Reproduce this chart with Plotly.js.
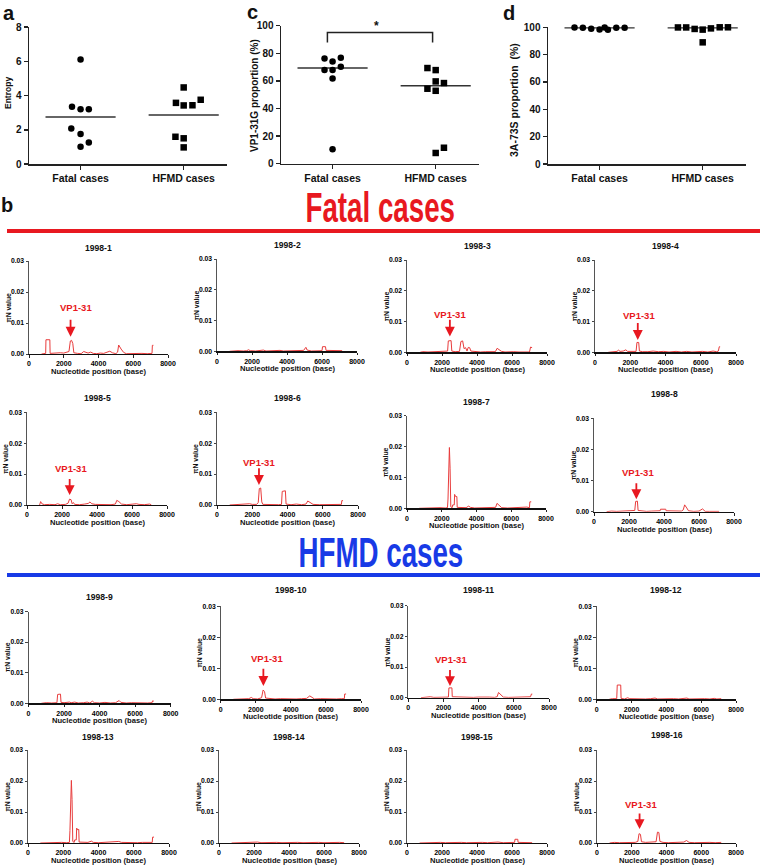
<!DOCTYPE html>
<html><head><meta charset="utf-8">
<script src="https://cdn.plot.ly/plotly-3.0.1.min.js"></script>
<style>body{margin:0;background:#fff}#chart{width:760px;height:865px}</style>
</head><body><div id="chart"></div>
<script>
// ---------------- DATA ----------------
const groups = ['Fatal cases', 'HFMD cases'];

// panel a: entropy
const entropyFatal = [6.1, 3.34, 3.2, 3.2, 2.08, 1.75, 1.0, 1.26];
const entropyFatalJit = [0, -0.083, 0, 0.08, -0.09, 0, 0, 0.08];
const entropyHFMD = [4.47, 3.57, 3.42, 3.43, 3.75, 1.59, 1.5, 0.97];
const entropyHFMDJit = [0, -0.075, 0, 0.085, 0.165, -0.08, 0, 0];
const entropyMedians = [2.74, 2.86];

// panel c: VP1-31G proportion (%)
const vp1Fatal = [76.3, 74.1, 76.7, 67.8, 67.8, 70.2, 61.8, 10.4];
const vp1FatalJit = [-0.078, 0, 0.08, -0.078, 0, 0.08, 0, 0];
const vp1HFMD = [69.3, 67.8, 59.6, 58.4, 54.3, 52.8, 11.5, 7.7];
const vp1HFMDJit = [-0.08, 0, 0, 0.08, -0.08, 0, 0.08, 0];
const vp1Medians = [69.3, 56.4];
const vp1Significance = {from: 0.95, to: 1.97, top: 95.1, leg: 87.9, label: '*'};

// panel d: 3A-73S proportion (%)
const a3Fatal = [99.8, 99.6, 99.0, 98.3, 99.8, 98.2, 99.6, 99.6];
const a3FatalJit = [-0.243, -0.162, -0.081, 0, 0.049, 0.081, 0.162, 0.243];
const a3HFMD = [99.9, 99.9, 98.8, 98.3, 99.2, 100, 100, 89.0];
const a3HFMDJit = [-0.24, -0.16, -0.078, 0, 0.08, 0.165, 0.245, 0];
const a3Medians = [99.6, 99.7];

// panel b: piN value along the genome, [position, piN]
const pi1998_1 = [[720,0],[960,0.0002],[975,0.0046],[1200,0.0046],[1215,0.0002],[1400,0.0003],[1600,0.0002],[1800,0.0004],[2000,0.0003],[2200,0.0005],[2300,0.0008],[2380,0.0042],[2450,0.0044],[2520,0.0034],[2580,0.0004],[2800,0.0002],[3000,0.0001],[3150,0.0008],[3250,0.0005],[3400,0.0003],[3550,0.0006],[3700,0.0002],[3900,0.0001],[4100,0.0003],[4300,0.0002],[4500,0.0006],[4650,0.0009],[4800,0.0004],[5000,0.0001],[5100,0.0006],[5160,0.0029],[5300,0.0016],[5450,0.0005],[5600,0.0001],[5900,0.0002],[6200,0.0001],[6500,0.0002],[6800,0.0001],[7080,0.0002],[7100,0.0028],[7160,0.0028]];
const pi1998_2 = [[720,0],[900,0.0001],[1200,0.0002],[1500,0.0001],[1700,0.0002],[1800,0.0005],[1900,0.0002],[2200,0.0001],[2500,0.0002],[2650,0.0004],[2800,0.0001],[3100,0.0002],[3400,0.0001],[3600,0.0003],[3800,0.0001],[4100,0.0002],[4400,0.0001],[4700,0.0002],[4950,0.0003],[5080,0.0013],[5150,0.0004],[5400,0.0001],[5700,0.0002],[6000,0.0002],[6030,0.0015],[6200,0.0015],[6230,0.0003],[6500,0.0002],[6800,0.0001],[7150,0.0002]];
const pi1998_3 = [[750,0],[900,0.0002],[1200,0.0001],[1500,0.0002],[1800,0.0001],[2100,0.0002],[2320,0.0004],[2360,0.0037],[2520,0.0038],[2560,0.0004],[2750,0.0002],[3000,0.0003],[3080,0.0035],[3180,0.0037],[3260,0.0012],[3350,0.0015],[3430,0.0004],[3500,0.0016],[3580,0.0015],[3650,0.0004],[3900,0.0002],[4200,0.0001],[4500,0.0002],[4800,0.0003],[5050,0.0002],[5150,0.0013],[5250,0.0010],[5400,0.0003],[5600,0.0001],[5900,0.0003],[6100,0.0002],[6400,0.0001],[6700,0.0002],[7000,0.0001],[7060,0.0017],[7150,0.0015]];
const pi1998_4 = [[750,0],[1000,0.0002],[1250,0.0003],[1330,0.0007],[1420,0.0003],[1600,0.0004],[1750,0.0008],[1850,0.0003],[2100,0.0002],[2330,0.0003],[2380,0.0032],[2480,0.0032],[2520,0.0004],[2700,0.0002],[3000,0.0002],[3300,0.0004],[3600,0.0002],[3900,0.0003],[4200,0.0001],[4600,0.0003],[4900,0.0001],[5200,0.0003],[5500,0.0001],[5800,0.0002],[6100,0.0003],[6400,0.0001],[6700,0.0004],[6900,0.0002],[7000,0.0004],[7050,0.0018],[7100,0.0018]];
const pi1998_5 = [[720,0],[780,0.0011],[850,0.0004],[1000,0.0001],[1300,0.0002],[1600,0.0001],[1750,0.0004],[1900,0.0001],[2200,0.0002],[2350,0.0006],[2430,0.0019],[2520,0.0017],[2580,0.0004],[2650,0.0008],[2720,0.0002],[3000,0.0001],[3300,0.0003],[3500,0.0005],[3600,0.0010],[3700,0.0004],[3900,0.0002],[4200,0.0001],[4500,0.0002],[4800,0.0001],[5050,0.0003],[5130,0.0015],[5250,0.0011],[5400,0.0003],[5700,0.0001],[6000,0.0002],[6250,0.0004],[6400,0.0002],[6700,0.0001],[7000,0.0003],[7100,0.0001]];
const pi1998_6 = [[720,0],[1000,0.0001],[1300,0.0002],[1600,0.0001],[1850,0.0004],[2000,0.0002],[2250,0.0002],[2340,0.0008],[2400,0.0053],[2480,0.0055],[2540,0.0010],[2600,0.0002],[2900,0.0001],[3200,0.0002],[3500,0.0001],[3660,0.0002],[3700,0.0044],[3880,0.0046],[3920,0.0003],[4200,0.0001],[4500,0.0003],[4800,0.0001],[5050,0.0003],[5150,0.0013],[5300,0.0008],[5450,0.0002],[5800,0.0001],[6200,0.0002],[6600,0.0001],[6900,0.0002],[7060,0.0002],[7080,0.0014],[7150,0.0014]];
const pi1998_7 = [[700,0],[1000,0.0001],[1300,0.0002],[1600,0.0001],[1900,0.0002],[2200,0.0001],[2330,0.0002],[2360,0.0030],[2440,0.0197],[2480,0.0130],[2520,0.0005],[2600,0.0002],[2630,0.0011],[2720,0.0011],[2740,0.0045],[2800,0.0038],[2870,0.0038],[2890,0.0003],[3100,0.0002],[3400,0.0002],[3550,0.0007],[3650,0.0003],[3900,0.0001],[4200,0.0002],[4500,0.0001],[4800,0.0002],[5100,0.0003],[5180,0.0016],[5300,0.0010],[5450,0.0002],[5800,0.0001],[6100,0.0002],[6400,0.0001],[6700,0.0003],[6900,0.0004],[7050,0.0002],[7070,0.0021],[7150,0.0021]];
const pi1998_8 = [[720,0],[1000,0.0002],[1300,0.0001],[1600,0.0002],[1900,0.0001],[2200,0.0002],[2330,0.0004],[2380,0.0033],[2480,0.0034],[2520,0.0004],[2700,0.0002],[3000,0.0001],[3300,0.0002],[3600,0.0002],[3780,0.0003],[3800,0.0008],[4100,0.0008],[4120,0.0003],[4400,0.0002],[4700,0.0003],[5000,0.0002],[5100,0.0006],[5180,0.0022],[5300,0.0012],[5400,0.0003],[5700,0.0001],[6000,0.0002],[6200,0.0009],[6300,0.0005],[6350,0.0001],[6600,0.0001],[6900,0.0002],[7150,0.0001]];
const pi1998_9 = [[720,0],[1000,0.0002],[1300,0.0001],[1600,0.0002],[1640,0.0029],[1800,0.0030],[1830,0.0003],[2000,0.0002],[2300,0.0004],[2400,0.0002],[2600,0.0004],[2800,0.0001],[3100,0.0002],[3300,0.0004],[3450,0.0001],[3600,0.0007],[3700,0.0002],[4000,0.0001],[4300,0.0003],[4600,0.0001],[4900,0.0002],[5100,0.0009],[5200,0.0003],[5500,0.0001],[5800,0.0002],[6100,0.0001],[6400,0.0002],[6700,0.0001],[6950,0.0002],[6980,0.0008],[7050,0.0007]];
const pi1998_10 = [[720,0],[1000,0.0001],[1300,0.0002],[1600,0.0002],[1750,0.0006],[1850,0.0002],[2100,0.0001],[2330,0.0005],[2420,0.0030],[2500,0.0025],[2560,0.0004],[2800,0.0002],[3100,0.0001],[3400,0.0002],[3700,0.0001],[4000,0.0002],[4300,0.0001],[4600,0.0002],[4900,0.0003],[5080,0.0011],[5200,0.0006],[5350,0.0001],[5700,0.0002],[6000,0.0001],[6300,0.0002],[6600,0.0001],[6900,0.0002],[7050,0.0002],[7070,0.0017],[7150,0.0017]];
const pi1998_11 = [[720,0],[1000,0.0002],[1250,0.0003],[1450,0.0001],[1700,0.0002],[2000,0.0001],[2280,0.0002],[2310,0.0032],[2480,0.0032],[2500,0.0003],[2800,0.0002],[3100,0.0001],[3400,0.0002],[3700,0.0001],[4000,0.0002],[4300,0.0003],[4600,0.0002],[4900,0.0001],[5050,0.0003],[5130,0.0017],[5250,0.0010],[5400,0.0002],[5700,0.0001],[6000,0.0002],[6300,0.0001],[6600,0.0002],[6950,0.0003],[7000,0.0012],[7050,0.0012]];
const pi1998_12 = [[720,0],[900,0.0002],[1150,0.0002],[1180,0.0046],[1380,0.0046],[1400,0.0003],[1600,0.0001],[1780,0.0005],[1900,0.0002],[2200,0.0001],[2500,0.0002],[2800,0.0001],[3100,0.0002],[3350,0.0004],[3500,0.0001],[3800,0.0002],[4100,0.0001],[4400,0.0002],[4700,0.0001],[5000,0.0002],[5180,0.0004],[5300,0.0001],[5600,0.0002],[5900,0.0001],[6200,0.0002],[6500,0.0001],[6750,0.0003],[6900,0.0001],[7150,0.0002]];
const pi1998_13 = [[700,0],[1000,0.0001],[1300,0.0002],[1600,0.0001],[1900,0.0002],[2200,0.0001],[2350,0.0002],[2380,0.0040],[2460,0.0202],[2500,0.0140],[2540,0.0005],[2620,0.0002],[2650,0.0010],[2740,0.0010],[2760,0.0048],[2830,0.0042],[2880,0.0044],[2900,0.0003],[3100,0.0002],[3400,0.0002],[3600,0.0006],[3700,0.0002],[4000,0.0001],[4300,0.0002],[4600,0.0001],[4900,0.0002],[5150,0.0005],[5300,0.0002],[5600,0.0001],[5900,0.0002],[6200,0.0001],[6500,0.0002],[6800,0.0001],[7050,0.0002],[7070,0.0019],[7150,0.0019]];
const pi1998_14 = [[720,0],[1000,0.0001],[1300,0.0002],[1600,0.0001],[1900,0.0002],[2200,0.0003],[2400,0.0001],[2700,0.0002],[3000,0.0001],[3300,0.0002],[3600,0.0001],[3900,0.0002],[4200,0.0001],[4500,0.0002],[4800,0.0001],[5100,0.0002],[5400,0.0001],[5700,0.0002],[6000,0.0001],[6300,0.0002],[6600,0.0001],[6900,0.0002],[7150,0.0001]];
const pi1998_15 = [[720,0],[1000,0.0001],[1300,0.0002],[1600,0.0001],[1900,0.0002],[2200,0.0001],[2500,0.0002],[2800,0.0001],[3100,0.0002],[3400,0.0001],[3700,0.0002],[4000,0.0001],[4300,0.0002],[4600,0.0001],[4900,0.0002],[5200,0.0003],[5500,0.0001],[5800,0.0002],[6150,0.0002],[6170,0.0012],[6330,0.0012],[6350,0.0002],[6600,0.0001],[6900,0.0002],[7150,0.0001]];
const pi1998_16 = [[720,0],[1000,0.0002],[1300,0.0001],[1600,0.0002],[1900,0.0003],[2200,0.0002],[2350,0.0005],[2420,0.0030],[2500,0.0028],[2560,0.0004],[2800,0.0002],[3100,0.0003],[3400,0.0004],[3480,0.0035],[3560,0.0034],[3620,0.0005],[3800,0.0002],[4100,0.0001],[4400,0.0002],[4700,0.0001],[5000,0.0003],[5150,0.0008],[5300,0.0002],[5600,0.0001],[5900,0.0002],[6200,0.0001],[6500,0.0002],[6800,0.0001],[7150,0.0002]];

const sampleNames = ['1998-1','1998-2','1998-3','1998-4','1998-5','1998-6','1998-7','1998-8',
                     '1998-9','1998-10','1998-11','1998-12','1998-13','1998-14','1998-15','1998-16'];
const piSeries = [pi1998_1,pi1998_2,pi1998_3,pi1998_4,pi1998_5,pi1998_6,pi1998_7,pi1998_8,
                  pi1998_9,pi1998_10,pi1998_11,pi1998_12,pi1998_13,pi1998_14,pi1998_15,pi1998_16];
const genomeTicks = [0, 2000, 4000, 6000, 8000];
const piTicks = [0, 0.01, 0.02, 0.03];
const piTickText = ['0.00', '0.01', '0.02', '0.03'];
// VP1-31 site labels: [sample index, site position, label centre position, label piN, arrow start piN, arrow tip piN]
const vp1Site = [
  [0, 2392, 2690, 0.0151, 0.0115, 0.0056],
  [2, 2450, 2478, 0.0122, 0.0111, 0.0051],
  [3, 2427, 2512, 0.0121, 0.0100, 0.0040],
  [4, 2438, 2486, 0.0118, 0.0089, 0.0032],
  [5, 2381, 2381, 0.0138, 0.0124, 0.0065],
  [7, 2420, 2486, 0.0125, 0.0096, 0.0040],
  [9, 2433, 2662, 0.0132, 0.0103, 0.0043],
  [10, 2370, 2436, 0.0124, 0.0095, 0.0038],
  [15, 2450, 2550, 0.0125, 0.0100, 0.0045]
];

// ---------------- LAYOUT ----------------
const W = 760, H = 865;
const FONT = 'Liberation Sans, Arial, Helvetica, sans-serif';
const RED = 'rgb(232,24,32)', BLUE = 'rgb(24,58,230)';
const HEAD_SX = 0.66;
const px = p => p / W;
const py = p => 1 - p / H;

const layout = {
  width: W, height: H, margin: {l: 0, r: 0, t: 0, b: 0}, showlegend: false,
  paper_bgcolor: '#fff', plot_bgcolor: 'rgba(0,0,0,0)',
  font: {family: FONT, color: '#111'},
  annotations: [], shapes: []
};
const traces = [];
const bold = (size, color) => ({family: FONT, size: size, weight: 'bold', color: color || '#111'});

// top panels: [x0, x1] px, [yTop, yBottom] px
const topBoxes = [
  {x: [29, 227], y: [27, 164], range: [0, 8], dtick: 2},
  {x: [281, 479], y: [25.7, 163.6], range: [0, 100], dtick: 20},
  {x: [548, 746], y: [27.3, 164], range: [0, 100], dtick: 20}
];
const topSets = [
  [entropyFatal, entropyFatalJit, entropyHFMD, entropyHFMDJit, entropyMedians],
  [vp1Fatal, vp1FatalJit, vp1HFMD, vp1HFMDJit, vp1Medians],
  [a3Fatal, a3FatalJit, a3HFMD, a3HFMDJit, a3Medians]
];
topBoxes.forEach((b, i) => {
  const s = i === 0 ? '' : String(i + 1);
  layout['xaxis' + s] = {
    domain: [px(b.x[0]), px(b.x[1])], range: [0.5, 2.42], anchor: 'y' + s,
    tickvals: [1, 2], ticktext: groups, ticks: 'outside', ticklen: 4, tickwidth: 1.5, tickcolor: '#222',
    showline: true, linecolor: '#222', linewidth: 1.5, showgrid: false, zeroline: false,
    tickfont: bold(10.5), fixedrange: true
  };
  layout['yaxis' + s] = {
    domain: [py(b.y[1]), py(b.y[0])], range: b.range, dtick: b.dtick, anchor: 'x' + s,
    ticks: 'outside', ticklen: 4, tickwidth: 1.5, tickcolor: '#222',
    showline: true, linecolor: '#222', linewidth: 1.5, showgrid: false, zeroline: false,
    tickfont: bold(10), fixedrange: true
  };
  const [fv, fj, hv, hj, med] = topSets[i];
  const xa = 'x' + s, ya = 'y' + s;
  [0, 1].forEach(g => {
    traces.push({type: 'scatter', mode: 'lines', xaxis: xa, yaxis: ya,
      x: [g + 1 - 0.34, g + 1 + 0.34], y: [med[g], med[g]],
      line: {color: '#333', width: 1.5}, hoverinfo: 'skip'});
  });
  traces.push({type: 'scatter', mode: 'markers', xaxis: xa, yaxis: ya,
    x: fj.map(j => 1 + j), y: fv, marker: {symbol: 'circle', size: 6.5, color: '#000'}, cliponaxis: false});
  traces.push({type: 'scatter', mode: 'markers', xaxis: xa, yaxis: ya,
    x: hj.map(j => 2 + j), y: hv, marker: {symbol: 'square', size: 6.5, color: '#000'}, cliponaxis: false});
});

// significance bracket in panel c
traces.push({type: 'scatter', mode: 'lines', xaxis: 'x2', yaxis: 'y2',
  x: [vp1Significance.from, vp1Significance.from, vp1Significance.to, vp1Significance.to],
  y: [vp1Significance.leg, vp1Significance.top, vp1Significance.top, vp1Significance.leg],
  line: {color: '#222', width: 1.5}, cliponaxis: false, hoverinfo: 'skip'});
layout.annotations.push({xref: 'x2', yref: 'y2', x: (vp1Significance.from + vp1Significance.to) / 2 - 0.03,
  y: vp1Significance.top, yanchor: 'bottom', yshift: -3, text: vp1Significance.label, showarrow: false, font: bold(12)});

// top y titles
const topYTitles = [
  {t: 'Entropy', x: 8, y: 93, s: 8.5},
  {t: 'VP1-31G proportion (%)', x: 255, y: 96, s: 10},
  {t: '3A-73S proportion  (%)', x: 514, y: 100, s: 10.5}
];
topYTitles.forEach(o => layout.annotations.push({xref: 'paper', yref: 'paper', x: px(o.x), y: py(o.y),
  text: o.t, textangle: -90, showarrow: false, font: bold(o.s), xanchor: 'center', yanchor: 'middle'}));

// panel letters
[['a', 9, 13], ['c', 253, 12], ['d', 509, 13], ['b', 7, 205]].forEach(l =>
  layout.annotations.push({xref: 'paper', yref: 'paper', x: px(l[1]), y: py(l[2]), text: l[0],
    showarrow: false, font: bold(20), xanchor: 'center', yanchor: 'middle', borderpad: 0}));

// section headings
[['Fatal cases', RED, 207, 231], ['HFMD cases', BLUE, 552, 575]].forEach(h => {
  layout.annotations.push({xref: 'paper', yref: 'paper', x: px(381), y: py(h[2]), text: h[0],
    showarrow: false, xanchor: 'center', yanchor: 'middle',
    font: {family: FONT, size: 42, weight: 'bold', color: h[1]}});
  layout.shapes.push({type: 'line', xref: 'paper', yref: 'paper', x0: px(7), x1: 1, y0: py(h[3]), y1: py(h[3]),
    line: {color: h[1], width: 4}});
});

// small panels: [x0, x1, y(0.03), y(0.00), titleY] px
const smallBoxes = [
  [29,168,261,354,248],[217,357,259,351.3,245],[407,547,260,352.3,246],[595,736,260,352.3,246],
  [27,167,412.3,505,398],[217,358,412.3,505,398],[407,546,415.7,508.3,402],[594,734,418.3,511.7,394],
  [28.5,170.7,611.5,703.3,597],[220.7,361,606.3,699.3,590],[408.3,549,605.7,697.7,590],[596.7,736,606.3,699.3,590],
  [28,169,750,843,737],[219,359,750,843,737],[407,547,750,843,737],[597,736,750,843,735]
];
smallBoxes.forEach((b, i) => {
  const n = i + 4, xa = 'x' + n, ya = 'y' + n;
  layout['xaxis' + n] = {
    domain: [px(b[0]), px(b[1])], range: [0, 8000], anchor: ya, tickvals: genomeTicks,
    ticks: 'outside', ticklen: 2.5, tickwidth: 1, tickcolor: '#222', showline: true, linecolor: '#111', linewidth: 1.3,
    showgrid: false, zeroline: false, tickfont: bold(7, '#000'), fixedrange: true
  };
  layout['yaxis' + n] = {
    domain: [py(b[3]), py(b[2])], range: [0, 0.03], anchor: xa, tickvals: piTicks, ticktext: piTickText,
    ticks: 'outside', ticklen: 2.5, tickwidth: 1, tickcolor: '#444', showline: true, linecolor: '#555', linewidth: 1,
    showgrid: false, zeroline: false, tickfont: bold(6.8, '#000'), fixedrange: true
  };
  const d = piSeries[i];
  traces.push({type: 'scatter', mode: 'lines', xaxis: xa, yaxis: ya,
    x: d.map(p => p[0]), y: d.map(p => p[1]), line: {color: 'rgb(232,60,60)', width: 1}, hoverinfo: 'skip'});
  layout.annotations.push({xref: 'paper', yref: 'paper', x: px((b[0] + b[1]) / 2), y: py(b[4]),
    text: sampleNames[i], showarrow: false, font: bold(8.6), xanchor: 'center', yanchor: 'middle'});
  layout.annotations.push({xref: 'paper', yref: 'paper', x: px((b[0] + b[1]) / 2), y: py(b[3] + 17.5),
    text: 'Nucleotide position (base)', showarrow: false, font: bold(7.6), xanchor: 'center', yanchor: 'middle'});
  layout.annotations.push({xref: 'paper', yref: 'paper', x: px(b[0] - 21), y: py((b[2] + b[3]) / 2),
    text: 'πN value', textangle: -90, showarrow: false, font: bold(6.8), xanchor: 'center', yanchor: 'middle'});
});

vp1Site.forEach(v => {
  const n = v[0] + 4, xa = 'x' + n, ya = 'y' + n;
  layout.annotations.push({xref: xa, yref: ya, x: v[2], y: v[3], text: 'VP1-31', showarrow: false,
    font: bold(9.5, RED), xanchor: 'center', yanchor: 'middle'});
  layout.annotations.push({xref: xa, yref: ya, x: v[1], y: v[5], axref: xa, ayref: ya, ax: v[1], ay: v[4],
    text: '', showarrow: true, arrowhead: 2, arrowsize: 1.1, arrowwidth: 1.8, arrowcolor: RED});
});

Plotly.newPlot('chart', traces, layout, {staticPlot: true, displayModeBar: false}).then(gd => {
  // the section headings use a condensed bold face: narrow them horizontally
  gd.querySelectorAll('text.annotation-text').forEach(t => {
    if (t.textContent === 'Fatal cases' || t.textContent === 'HFMD cases') {
      const bb = t.getBBox();
      const cx = bb.x + bb.width / 2;
      t.setAttribute('transform', 'translate(' + cx + ',0) scale(' + HEAD_SX + ',1) translate(' + (-cx) + ',0)');
    }
  });
});
</script>
</body></html>
